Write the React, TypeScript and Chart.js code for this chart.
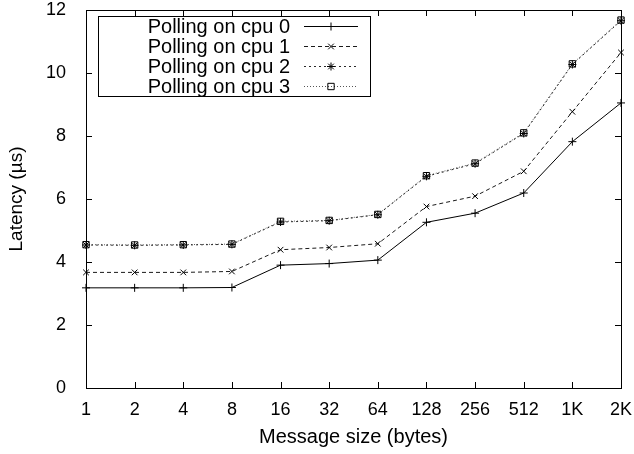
import React, { useEffect, useRef } from "react";
import { Chart, registerables } from "chart.js";

Chart.register(...registerables);

const categories = ["1", "2", "4", "8", "16", "32", "64", "128", "256", "512", "1K", "2K"];
const seriesNames = ["Polling on cpu 0", "Polling on cpu 1", "Polling on cpu 2", "Polling on cpu 3"];
const cpu0 = [3.18, 3.18, 3.18, 3.19, 3.9, 3.95, 4.06, 5.26, 5.55, 6.19, 7.82, 9.05];
const cpu1 = [3.67, 3.67, 3.67, 3.7, 4.39, 4.46, 4.58, 5.76, 6.09, 6.88, 8.77, 10.65];
const cpu2 = [4.54, 4.53, 4.54, 4.56, 5.27, 5.31, 5.5, 6.72, 7.12, 8.08, 10.27, 11.66];
const cpu3 = [4.55, 4.54, 4.55, 4.57, 5.29, 5.32, 5.51, 6.74, 7.14, 8.1, 10.29, 11.68];
const yTicks = [0, 2, 4, 6, 8, 10, 12];

const FONT = '"Liberation Sans", Arial, Helvetica, sans-serif';

const styles = [
  { color: "#000000", dash: [] as number[], point: "cross", radius: 4 },
  { color: "#1a1a1a", dash: [4, 3], point: "crossRot", radius: 4 },
  { color: "#2a2a2a", dash: [2, 3], point: "star", radius: 4 },
  { color: "#555555", dash: [1, 2], point: "rect", radius: 4.5 },
];

function drawMarker(ctx: CanvasRenderingContext2D, style: string, x: number, y: number, r: number) {
  ctx.beginPath();
  if (style === "cross" || style === "star") {
    ctx.moveTo(x - r, y);
    ctx.lineTo(x + r, y);
    ctx.moveTo(x, y - r);
    ctx.lineTo(x, y + r);
  }
  if (style === "crossRot" || style === "star") {
    const d = r * Math.SQRT1_2;
    ctx.moveTo(x - d, y - d);
    ctx.lineTo(x + d, y + d);
    ctx.moveTo(x - d, y + d);
    ctx.lineTo(x + d, y - d);
  }
  if (style === "rect") {
    const s = r * Math.SQRT1_2;
    ctx.rect(x - s, y - s, 2 * s, 2 * s);
  }
  ctx.stroke();
}

const framePlugin = {
  id: "frame",
  afterDatasetsDraw(chart: any) {
    const { ctx, chartArea } = chart;
    const xs = chart.scales.x;
    const ys = chart.scales.y;
    const { left, right, top, bottom } = chartArea;
    ctx.save();
    ctx.strokeStyle = "#000";
    ctx.lineWidth = 1;
    ctx.setLineDash([]);
    ctx.strokeRect(Math.round(left) + 0.5, Math.round(top) + 0.5, Math.round(right - left), Math.round(bottom - top));
    const tl = 6;
    ctx.beginPath();
    categories.forEach((_, i) => {
      const px = Math.round(xs.getPixelForValue(i)) + 0.5;
      ctx.moveTo(px, bottom);
      ctx.lineTo(px, bottom - tl);
      ctx.moveTo(px, top);
      ctx.lineTo(px, top + tl);
    });
    yTicks.forEach((v) => {
      const py = Math.round(ys.getPixelForValue(v)) + 0.5;
      ctx.moveTo(left, py);
      ctx.lineTo(left + tl, py);
      ctx.moveTo(right, py);
      ctx.lineTo(right - tl, py);
    });
    ctx.stroke();

    // legend
    const bx = left + 12;
    const by = top + 6;
    const bw = 272;
    const bh = 80;
    ctx.fillStyle = "#fff";
    ctx.fillRect(bx, by, bw, bh);
    ctx.strokeRect(Math.round(bx) + 0.5, Math.round(by) + 0.5, bw, bh);
    ctx.font = `20px ${FONT}`;
    ctx.textAlign = "right";
    ctx.textBaseline = "middle";
    seriesNames.forEach((name, i) => {
      const cy = by + 10 + i * 20;
      ctx.fillStyle = "#000";
      ctx.fillText(name, bx + 192, cy + 1);
      const st = styles[i];
      ctx.strokeStyle = st.color;
      ctx.lineWidth = 1;
      ctx.setLineDash(st.dash);
      ctx.beginPath();
      ctx.moveTo(bx + 206, Math.round(cy) + 0.5);
      ctx.lineTo(bx + 260, Math.round(cy) + 0.5);
      ctx.stroke();
      ctx.setLineDash([]);
      ctx.strokeStyle = "#000";
      drawMarker(ctx, st.point, bx + 233, Math.round(cy) + 0.5, st.radius);
    });
    ctx.restore();
  },
};

export default function App() {
  const ref = useRef<HTMLCanvasElement | null>(null);
  useEffect(() => {
    if (!ref.current) return;
    const dataArrays = [cpu0, cpu1, cpu2, cpu3];
    const chart = new Chart(ref.current, {
      type: "line",
      data: {
        labels: categories,
        datasets: dataArrays.map((d, i) => ({
          label: seriesNames[i],
          data: d,
          borderColor: styles[i].color,
          borderWidth: 1,
          borderDash: styles[i].dash,
          pointStyle: styles[i].point as any,
          pointRadius: styles[i].radius,
          pointBorderColor: "#000",
          pointBackgroundColor: "rgba(0,0,0,0)",
          pointBorderWidth: 1,
          fill: false,
          tension: 0,
        })),
      },
      options: {
        responsive: false,
        animation: false,
        devicePixelRatio: 1,
        layout: { padding: { top: 10, right: 13, left: 0, bottom: 0 } },
        plugins: { legend: { display: false }, tooltip: { enabled: false } },
        scales: {
          x: {
            type: "category",
            offset: false,
            grid: { display: false },
            border: { display: false },
            ticks: { color: "#000", font: { family: FONT, size: 18 }, padding: 3, maxRotation: 0, autoSkip: false },
            title: { display: true, text: "Message size (bytes)", color: "#000", font: { family: FONT, size: 20 }, padding: { top: 4, bottom: 5 } },
            afterFit: (s: any) => {
              s.height = 66;
              s.paddingLeft = 0;
              s.paddingRight = 0;
            },
          },
          y: {
            min: 0,
            max: 12,
            grid: { display: false },
            border: { display: false },
            ticks: { stepSize: 2, color: "#000", font: { family: FONT, size: 18 }, padding: 12 },
            title: { display: true, text: "Latency (µs)", color: "#000", font: { family: FONT, size: 19 }, padding: { top: 5, bottom: 4 } },
            afterFit: (s: any) => {
              s.width = 86;
              s.paddingTop = 0;
              s.paddingBottom = 0;
            },
          },
        },
      },
      plugins: [framePlugin],
    });
    return () => chart.destroy();
  }, []);
  return (
    <div style={{ position: "fixed", left: 0, top: 0, width: 634, height: 454, background: "#fff" }}>
      <canvas ref={ref} width={634} height={454} style={{ width: 634, height: 454, display: "block" }} />
    </div>
  );
}
